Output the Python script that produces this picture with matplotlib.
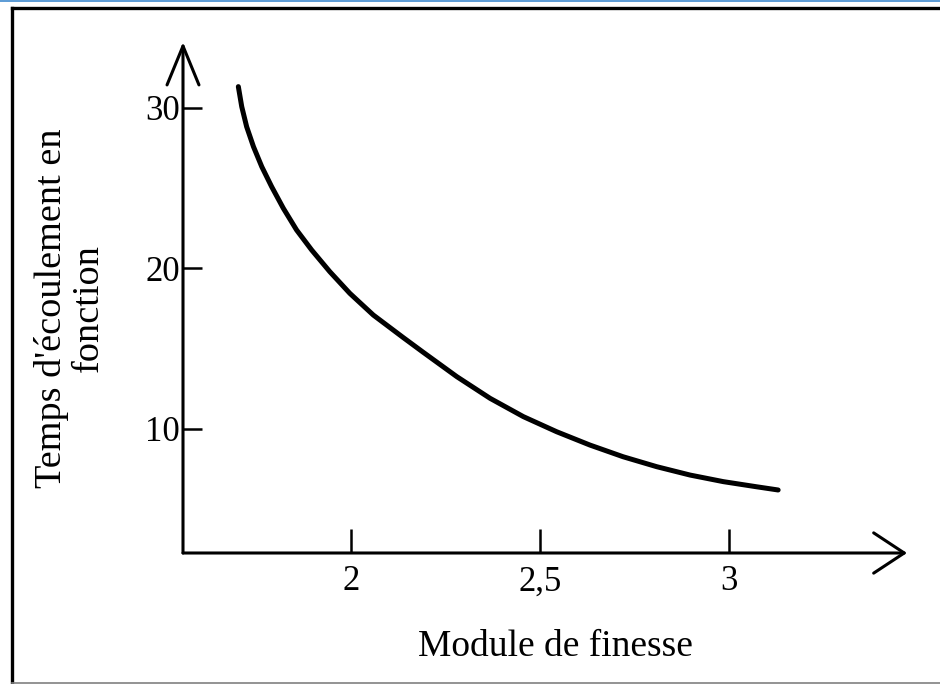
import matplotlib
matplotlib.use("Agg")
import matplotlib.pyplot as plt
from matplotlib.lines import Line2D

# ---- data ----
module_finesse = [1.702, 1.711, 1.724, 1.742, 1.764, 1.790, 1.821, 1.856, 1.896,
                  1.944, 1.997, 2.059, 2.138, 2.191, 2.280, 2.368, 2.456, 2.544,
                  2.632, 2.720, 2.809, 2.897, 2.985, 3.073, 3.130]
temps_ecoulement = [31.33, 30.08, 28.83, 27.59, 26.34, 25.10, 23.75, 22.40, 21.15,
                    19.80, 18.45, 17.10, 15.70, 14.78, 13.26, 11.91, 10.77, 9.83,
                    9.00, 8.27, 7.65, 7.13, 6.72, 6.40, 6.20]
x_ticks = [2, 2.5, 3]
x_tick_labels = ["2", "2,5", "3"]
y_ticks = [10, 20, 30]
y_tick_labels = ["10", "20", "30"]
x_label = "Module de finesse"
y_label = "Temps d'écoulement en\nfonction"

W, H = 940, 684
fig = plt.figure(figsize=(W / 100, H / 100), dpi=100)
fig.patch.set_facecolor("white")

plt.rcParams["font.family"] = ["Liberation Serif", "DejaVu Serif"]

# frame decorations (figure pixel -> fraction)
def fx(px):
    return px / W

def fy(py):
    return 1 - py / H

fig.add_artist(Line2D([0, 1], [fy(0.8), fy(0.8)], transform=fig.transFigure,
                      color="#5b9bd5", lw=1.4))
fig.add_artist(Line2D([fx(11.5), 1], [fy(8), fy(8)], transform=fig.transFigure,
                      color="black", lw=2.4))
fig.add_artist(Line2D([fx(11.5), fx(11.5)], [fy(8), 0], transform=fig.transFigure,
                      color="black", lw=2.4))
fig.add_artist(Line2D([fx(11.5), 1], [fy(682.5), fy(682.5)], transform=fig.transFigure,
                      color="#808080", lw=1.2))

# axes placed so that data maps to reference pixels
ax = fig.add_axes([fx(183), fy(553), fx(907) - fx(183), fy(42) - fy(553)])
ax.set_xlim(1.5556, 3.4709)
ax.set_ylim(2.274, 34.11)
ax.patch.set_alpha(0)
for s in ax.spines.values():
    s.set_visible(False)

# axis lines with open arrowheads
ax.annotate("", xy=(1, 0), xytext=(0, 0), xycoords="axes fraction",
            arrowprops=dict(arrowstyle="->,head_length=2.2,head_width=1.45",
                            lw=2.2, color="black", shrinkA=0, shrinkB=0),
            annotation_clip=False)
ax.annotate("", xy=(0, 1), xytext=(0, 0), xycoords="axes fraction",
            arrowprops=dict(arrowstyle="->,head_length=2.8,head_width=1.15",
                            lw=2.2, color="black", shrinkA=0, shrinkB=0),
            annotation_clip=False)

ax.plot(module_finesse, temps_ecoulement, color="black", lw=3.6,
        solid_capstyle="round", solid_joinstyle="round")

ax.set_xticks(x_ticks, x_tick_labels)
ax.set_yticks(y_ticks, y_tick_labels)
ax.tick_params(axis="x", direction="in", length=17, width=1.8, pad=9,
               labelsize=25)
ax.tick_params(axis="y", direction="in", length=14, width=1.8, pad=2,
               labelsize=25)

fig.text(fx(555), fy(647), x_label, ha="center", va="center", fontsize=27)
fig.text(fx(70), fy(308), y_label, ha="center", va="center", fontsize=27.5,
         rotation=90, linespacing=1.1, multialignment="center")

fig.savefig("out.png", dpi=100, facecolor="white")
